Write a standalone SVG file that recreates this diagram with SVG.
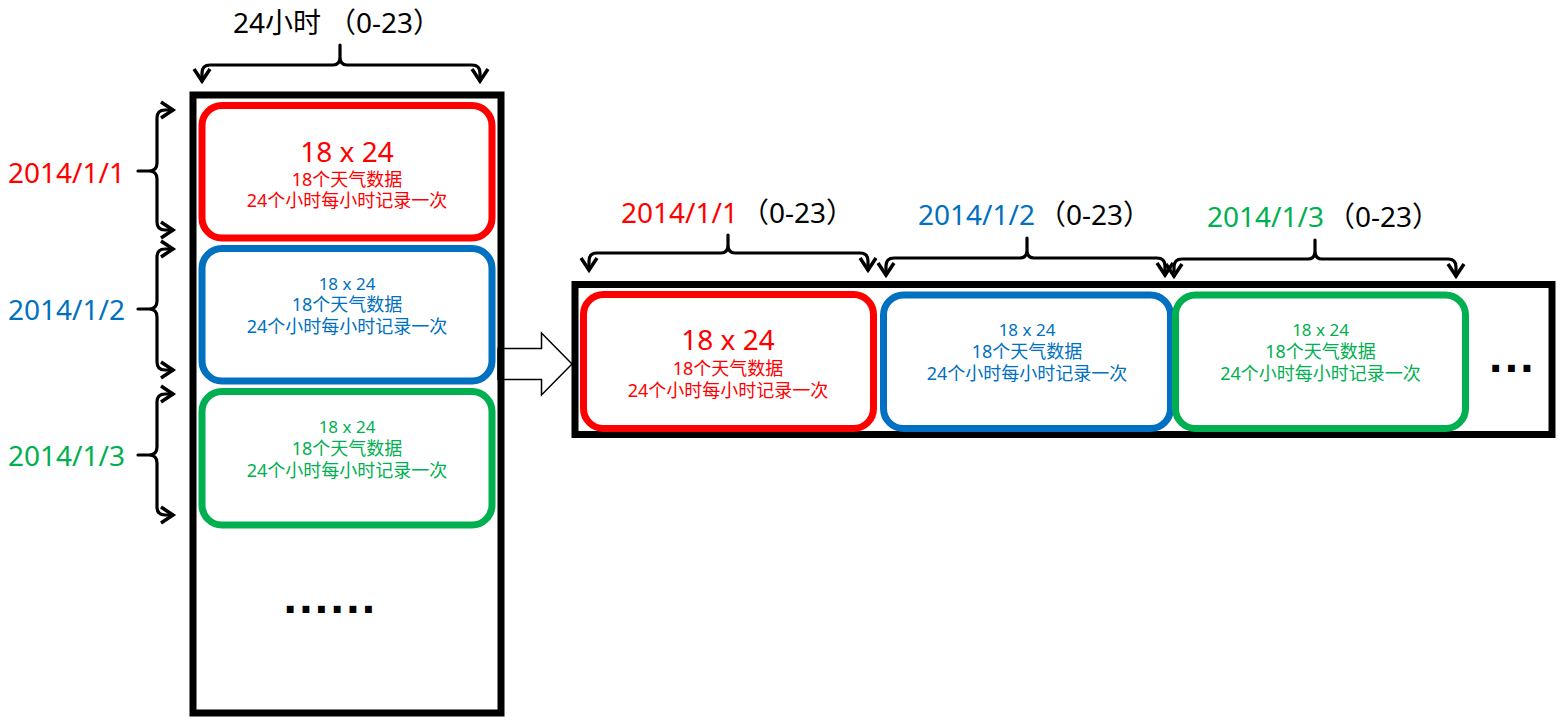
<svg xmlns="http://www.w3.org/2000/svg" width="1565" height="725" viewBox="0 0 1565 725">
<style>
.frame{fill:none;stroke:#000;stroke-width:7}
.box{fill:#fff;stroke-width:7}
.r{stroke:#FF0000}.b{stroke:#0070C0}.g{stroke:#00B050}
.t{font-family:"Noto Sans","Noto Sans CJK SC",sans-serif;text-anchor:middle}
.lab{font-family:"Noto Sans","Noto Sans CJK SC",sans-serif;font-size:28px}
.big{font-size:28px}.sm{font-size:18px}.sl{font-size:17px}
.tr{fill:#FF0000}.tb{fill:#0070C0}.tg{fill:#00B050}.tk{fill:#000}
.brace{fill:none;stroke:#000;stroke-width:3.2;stroke-linejoin:round;stroke-linecap:round;marker-start:url(#ah-s);marker-end:url(#ah)}
.dots{font-family:"Liberation Sans",sans-serif;font-weight:bold;font-size:48px;letter-spacing:2.3px;fill:#000}
</style>
<defs>
<marker id="ah" markerUnits="userSpaceOnUse" markerWidth="30" markerHeight="30" viewBox="-15 -15 30 30" refX="0" refY="0" orient="auto">
<path d="M-12,-8 L0,0 L-12,8" fill="none" stroke="#000" stroke-width="3.5" stroke-linejoin="miter"/>
</marker>
<marker id="ah-s" markerUnits="userSpaceOnUse" markerWidth="30" markerHeight="30" viewBox="-15 -15 30 30" refX="0" refY="0" orient="auto-start-reverse">
<path d="M-12,-8 L0,0 L-12,8" fill="none" stroke="#000" stroke-width="3.5" stroke-linejoin="miter"/>
</marker>
</defs>
<rect width="1565" height="725" fill="#fff"/>

<g id="connectors">
<path id="big-arrow" d="M498,348.5 L541.5,348.5 L541.5,333 L572,364 L541.5,395 L541.5,379.5 L498,379.5 Z" fill="#fff" stroke="#000" stroke-width="1.5"/>
<path class="brace" d="M202,81 L202,73 Q202,65 210,65 L333,65 Q340,65 340,57 L340,45 L340,57 Q340,65 347,65 L472,65 Q480,65 480,73 L480,81"/>
<path class="brace" d="M173,110 L165,110 Q157,110 157,118 L157,163 Q157,171 149,171 L138,171 L149,171 Q157,171 157,179 L157,222 Q157,230 165,230 L173,230"/>
<path class="brace" d="M173,249 L165,249 Q157,249 157,257 L157,301 Q157,309 149,309 L138,309 L149,309 Q157,309 157,317 L157,362 Q157,370 165,370 L173,370"/>
<path class="brace" d="M173,394 L165,394 Q157,394 157,402 L157,447 Q157,455 149,455 L138,455 L149,455 Q157,455 157,463 L157,507 Q157,515 165,515 L173,515"/>
<path class="brace" d="M589,270 L589,261 Q589,253 597,253 L721,253 Q728,253 728,245 L728,235 L728,245 Q728,253 735,253 L860,253 Q868,253 868,261 L868,270"/>
<path class="brace" d="M886,275 L886,266 Q886,258 894,258 L1020,258 Q1027,258 1027,250 L1027,238 L1027,250 Q1027,258 1034,258 L1157,258 Q1165,258 1165,266 L1165,275"/>
<path class="brace" d="M1174,276 L1174,267 Q1174,259 1182,259 L1308,259 Q1315,259 1315,251 L1315,240 L1315,251 Q1315,259 1322,259 L1448,259 Q1456,259 1456,267 L1456,276"/>
</g>

<g id="top-label"><text class="lab tk" x="233" y="33">24小时<tspan dx="7">（0-23）</tspan></text></g>
<g id="date-labels">
<text class="lab tr" x="8" y="183">2014/1/1</text>
<text class="lab tb" x="8" y="320">2014/1/2</text>
<text class="lab tg" x="8" y="466">2014/1/3</text>
<text class="lab" x="621" y="223"><tspan class="tr">2014/1/1</tspan><tspan class="tk" dx="3">（0-23）</tspan></text>
<text class="lab" x="918" y="225"><tspan class="tb">2014/1/2</tspan><tspan class="tk" dx="3">（0-23）</tspan></text>
<text class="lab" x="1207" y="227"><tspan class="tg">2014/1/3</tspan><tspan class="tk" dx="3">（0-23）</tspan></text>
</g>

<g id="left-frame">
<rect class="frame" x="193" y="95" width="308" height="618"/>
<text class="dots" x="283.6" y="612.5">......</text>
</g>
<g id="left-day1">
<rect class="box r" x="202" y="105.5" width="290" height="132.5" rx="20"/>
<text class="t big tr" x="347" y="162">18 x 24</text>
<text class="t sm tr" x="347" y="186">18个天气数据</text>
<text class="t sm tr" x="347" y="207">24个小时每小时记录一次</text>
</g>
<g id="left-day2">
<rect class="box b" x="202" y="248.5" width="290" height="132.5" rx="20"/>
<text class="t sl tb" x="347" y="290">18 x 24</text>
<text class="t sm tb" x="347" y="311">18个天气数据</text>
<text class="t sm tb" x="347" y="333">24个小时每小时记录一次</text>
</g>
<g id="left-day3">
<rect class="box g" x="202" y="391.5" width="290" height="133.5" rx="20"/>
<text class="t sl tg" x="347" y="433">18 x 24</text>
<text class="t sm tg" x="347" y="455">18个天气数据</text>
<text class="t sm tg" x="347" y="477">24个小时每小时记录一次</text>
</g>

<g id="right-frame">
<rect class="frame" x="575" y="284.5" width="977" height="150"/>
<text class="dots" x="1489" y="372">...</text>
</g>
<g id="right-day1">
<rect class="box r" x="583.5" y="294.5" width="290" height="134" rx="20"/>
<text class="t big tr" x="728" y="350">18 x 24</text>
<text class="t sm tr" x="728" y="375">18个天气数据</text>
<text class="t sm tr" x="728" y="397">24个小时每小时记录一次</text>
</g>
<g id="right-day2">
<rect class="box b" x="883.5" y="295" width="287" height="133.5" rx="20"/>
<text class="t sl tb" x="1027" y="336">18 x 24</text>
<text class="t sm tb" x="1027" y="358">18个天气数据</text>
<text class="t sm tb" x="1027" y="380">24个小时每小时记录一次</text>
</g>
<g id="right-day3">
<rect class="box g" x="1175.5" y="295" width="290" height="133.5" rx="20"/>
<text class="t sl tg" x="1320.5" y="336">18 x 24</text>
<text class="t sm tg" x="1320.5" y="358">18个天气数据</text>
<text class="t sm tg" x="1320.5" y="380">24个小时每小时记录一次</text>
</g>
</svg>
